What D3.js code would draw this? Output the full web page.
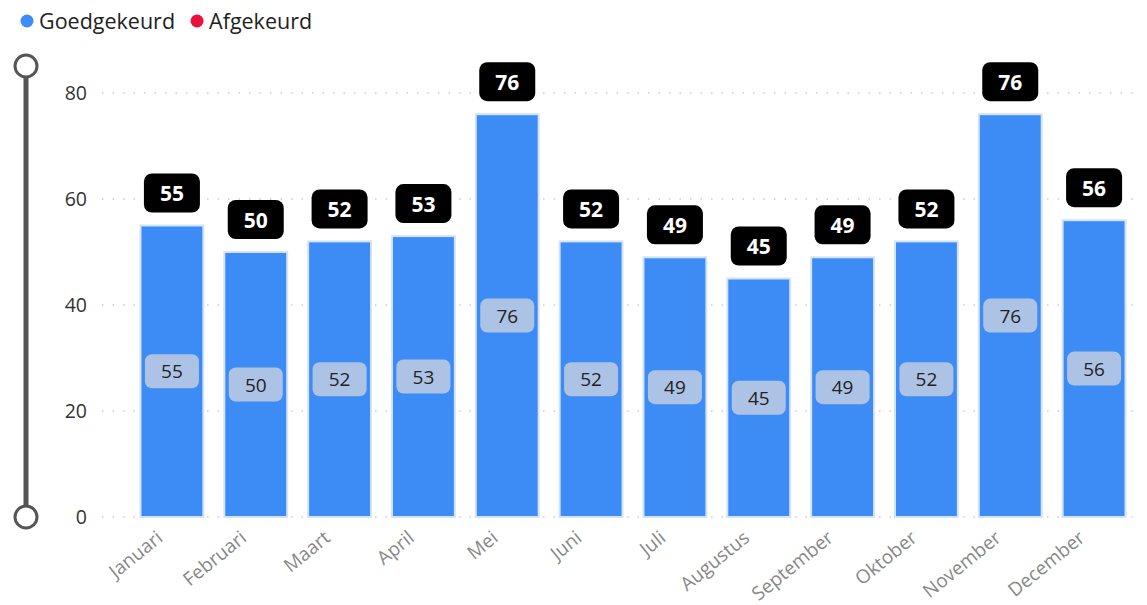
<!DOCTYPE html>
<html>
<head>
<meta charset="utf-8">
<script src="https://cdn.jsdelivr.net/npm/d3@7"></script>
<style>
  body { margin: 0; background: #fff; font-family: "Open Sans", "Noto Sans", sans-serif; }
</style>
</head>
<body>
<div id="chart"></div>
<script>
const months = ["Januari", "Februari", "Maart", "April", "Mei", "Juni", "Juli", "Augustus", "September", "Oktober", "November", "December"];
const approved = [55, 50, 52, 53, 76, 52, 49, 45, 49, 52, 76, 56];
const yTicks = [0, 20, 40, 60, 80];
const legendItems = ["Goedgekeurd", "Afgekeurd"];
const legendColors = ["#3d8bf5", "#e8133b"];

const width = 1147, height = 605;
const svg = d3.select("#chart").append("svg")
  .attr("width", width)
  .attr("height", height);

const x = d3.scaleBand()
  .domain(months)
  .range([130, 1136])
  .paddingInner(0.25)
  .paddingOuter(0.125);

const y = d3.scaleLinear()
  .domain([0, 80])
  .range([517, 93]);

// legend
const legend = svg.append("g");
let lx = 27;
legendItems.forEach((name, i) => {
  legend.append("circle").attr("cx", lx).attr("cy", 21).attr("r", 6.5).attr("fill", legendColors[i]);
  const t = legend.append("text")
    .attr("x", lx + 12).attr("y", 28.5)
    .attr("font-size", 21.5).attr("fill", "#222")
    .text(name);
  lx += 12 + t.node().getComputedTextLength() + 22;
});

// slider
svg.append("line")
  .attr("x1", 26).attr("x2", 26).attr("y1", 66).attr("y2", 517)
  .attr("stroke", "#555").attr("stroke-width", 5);
[66, 517].forEach(cy => {
  svg.append("circle").attr("cx", 26).attr("cy", cy).attr("r", 11)
    .attr("fill", "#fff").attr("stroke", "#555").attr("stroke-width", 3);
});

// grid + y axis
svg.append("g")
  .selectAll("line")
  .data(yTicks)
  .enter()
  .append("line")
  .attr("x1", 102).attr("x2", 1140)
  .attr("y1", d => y(d)).attr("y2", d => y(d))
  .attr("stroke", "#ccc").attr("stroke-width", 1.5)
  .attr("stroke-dasharray", "1.5,9");

svg.append("g")
  .selectAll("text")
  .data(yTicks)
  .enter()
  .append("text")
  .attr("x", 87).attr("y", d => y(d) + 7)
  .attr("text-anchor", "end")
  .attr("font-size", 19.5).attr("fill", "#333")
  .text(d => d);

// bars
svg.append("g")
  .selectAll("rect")
  .data(approved)
  .enter()
  .append("rect")
  .attr("x", (d, i) => x(months[i]))
  .attr("y", d => y(d))
  .attr("width", x.bandwidth())
  .attr("height", d => y(0) - y(d))
  .attr("fill", "#3d8bf5")
  .attr("stroke", "#d3e3fc")
  .attr("stroke-width", 2);

// inner labels
const innerLabels = svg.append("g")
  .selectAll("g")
  .data(approved)
  .enter()
  .append("g")
  .attr("transform", (d, i) => `translate(${x(months[i]) + x.bandwidth() / 2},${y(d / 2)})`);
innerLabels.append("rect")
  .attr("x", -27).attr("y", -17).attr("width", 54).attr("height", 34)
  .attr("rx", 7).attr("fill", "#adc3e6");
innerLabels.append("text")
  .attr("y", 7).attr("text-anchor", "middle")
  .attr("font-size", 19).attr("fill", "#222")
  .text(d => d);

// top labels
const topLabels = svg.append("g")
  .selectAll("g")
  .data(approved)
  .enter()
  .append("g")
  .attr("transform", (d, i) => `translate(${x(months[i]) + x.bandwidth() / 2},${y(d) - 32})`);
topLabels.append("rect")
  .attr("x", -28).attr("y", -20).attr("width", 56).attr("height", 39)
  .attr("rx", 8).attr("fill", "#000");
topLabels.append("text")
  .attr("y", 7.5).attr("text-anchor", "middle")
  .attr("font-size", 21).attr("font-weight", "bold").attr("fill", "#fff")
  .text(d => d);

// x labels
svg.append("g")
  .selectAll("text")
  .data(months)
  .enter()
  .append("text")
  .attr("transform", d => `translate(${x(d) + x.bandwidth() / 2 - 8},${540}) rotate(-39)`)
  .attr("text-anchor", "end")
  .attr("font-size", 19).attr("fill", "#888")
  .text(d => d);
</script>
</body>
</html>
